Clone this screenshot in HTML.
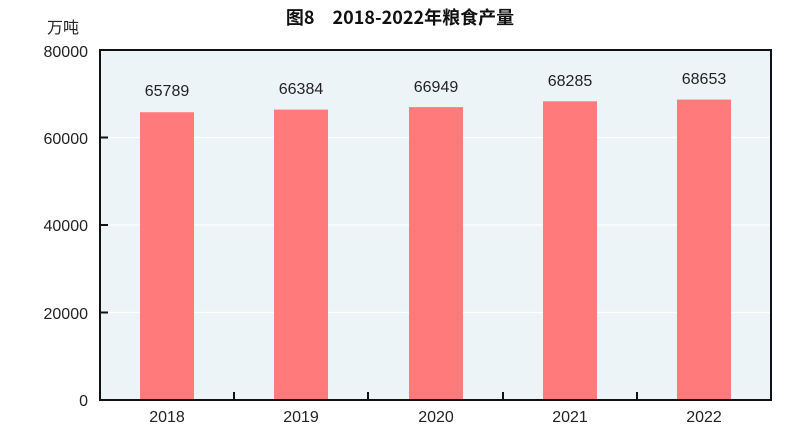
<!DOCTYPE html><html><head><meta charset="utf-8"><style>body{margin:0;background:#fff}svg{display:block}</style></head><body>
<svg width="800" height="444" xmlns="http://www.w3.org/2000/svg" font-family="'Liberation Sans','Noto Sans CJK SC',sans-serif">
<rect width="800" height="444" fill="#fff"/>
<text x="400" y="24" font-size="18" font-weight="bold" text-anchor="middle" fill="#111" font-family="'Noto Sans CJK SC',sans-serif">图8　2018-2022年粮食产量</text>
<text x="63" y="33" font-size="16" text-anchor="middle" fill="#222" font-family="'Noto Sans CJK SC',sans-serif">万吨</text>
<rect x="100" y="50" width="671" height="350" fill="#EDF4F7"/>
<g stroke="#fff" stroke-width="1.2"><line x1="100" x2="771" y1="137.5" y2="137.5"/><line x1="100" x2="771" y1="225" y2="225"/><line x1="100" x2="771" y1="312.5" y2="312.5"/></g>
<g fill="#FF7B7B">
<rect x="140" y="112.2" width="54" height="287.8"/>
<rect x="274" y="109.6" width="54" height="290.4"/>
<rect x="409" y="107.1" width="54" height="292.9"/>
<rect x="543" y="101.3" width="54" height="298.7"/>
<rect x="677" y="99.6" width="54" height="300.4"/>
</g>
<g font-size="16" fill="#222" text-anchor="middle">
<text x="167" y="96">65789</text><text x="301" y="94">66384</text><text x="436" y="92">66949</text><text x="570" y="86">68285</text><text x="704" y="84">68653</text>
<text x="167" y="422">2018</text><text x="301" y="422">2019</text><text x="436" y="422">2020</text><text x="570" y="422">2021</text><text x="704" y="422">2022</text>
</g>
<g font-size="16" fill="#222" text-anchor="end">
<text x="88" y="57">80000</text><text x="88" y="144">60000</text><text x="88" y="231">40000</text><text x="88" y="319">20000</text><text x="88" y="406">0</text>
</g>
<rect x="100" y="50" width="671" height="350" fill="none" stroke="#111" stroke-width="2"/>
<g stroke="#111" stroke-width="2">
<line x1="100" x2="108" y1="137.5" y2="137.5"/><line x1="100" x2="108" y1="225" y2="225"/><line x1="100" x2="108" y1="312.5" y2="312.5"/>
<line x1="234" x2="234" y1="400" y2="392"/><line x1="368" x2="368" y1="400" y2="392"/><line x1="503" x2="503" y1="400" y2="392"/><line x1="637" x2="637" y1="400" y2="392"/>
</g>
</svg></body></html>
